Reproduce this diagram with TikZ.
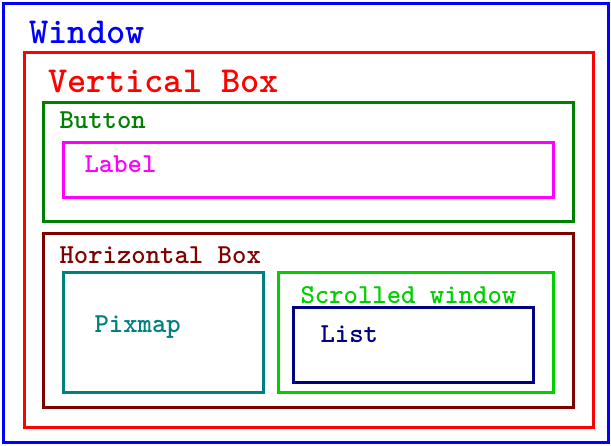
\documentclass[tikz,border=0pt]{standalone}
\usepackage{fontspec}
\usepackage{xcolor}
\usetikzlibrary{positioning}
\definecolor{winblue}{RGB}{0,0,255}
\definecolor{vred}{RGB}{255,0,0}
\definecolor{dkgreen}{RGB}{0,128,0}
\definecolor{ltgreen}{RGB}{0,208,0}
\definecolor{maroon}{RGB}{128,0,0}
\definecolor{dkteal}{RGB}{0,128,128}
\definecolor{dknavy}{RGB}{0,0,128}
\definecolor{pmagenta}{RGB}{255,0,255}

\begin{document}
\begin{tikzpicture}[x=1pt,y=-1pt,line width=3pt]
	\tikzstyle{box} =[rectangle,inner sep=0pt,outer sep=0pt,anchor=north west]
	\tikzstyle{big} =[inner sep=0pt,anchor=base west,font=\ttfamily\bfseries\fontsize{36.6}{36.6}\selectfont]
	\tikzstyle{small} =[inner sep=0pt,anchor=base west,font=\ttfamily\bfseries\fontsize{27.4}{27.4}\selectfont]
	\useasboundingbox (0,0) rectangle (611,445);
	% boxes
	\node (win) [box,draw=winblue,minimum width=605pt,minimum height=439pt] at (3,3) {};
	\node (vbox) [box,draw=vred,minimum width=569pt,minimum height=375pt] at (24,52) {};
	\node (button) [box,draw=dkgreen,minimum width=530pt,minimum height=119pt] at (43,102) {};
	\node (label) [box,draw=pmagenta,minimum width=490pt,minimum height=55pt] at (63,142) {};
	\node (hbox) [box,draw=maroon,minimum width=530pt,minimum height=174pt] at (43,233) {};
	\node (pixmap) [box,draw=dkteal,minimum width=200pt,minimum height=120pt] at (63,272) {};
	\node (scrolled) [box,draw=ltgreen,minimum width=275pt,minimum height=120pt] at (278,272) {};
	\node (list) [box,draw=dknavy,minimum width=240pt,minimum height=75pt] at (293,307) {};
	% texts
	\node (wintext) [big,text=winblue] at (28,43) {Window};
	\node (vboxtext) [big,text=vred] at (47,92) {Vertical Box};
	\node (buttontext) [small,text=dkgreen] at (58,128) {Button};
	\node (labeltext) [small,text=pmagenta] at (83,172) {Label};
	\node (hboxtext) [small,text=maroon] at (58,263) {Horizontal Box};
	\node (pixmaptext) [small,text=dkteal] at (93,332) {Pixmap};
	\node (scrolledtext) [small,text=ltgreen] at (299,303) {Scrolled window};
	\node (listtext) [small,text=dknavy] at (319,342) {List};
\end{tikzpicture}
\end{document}
